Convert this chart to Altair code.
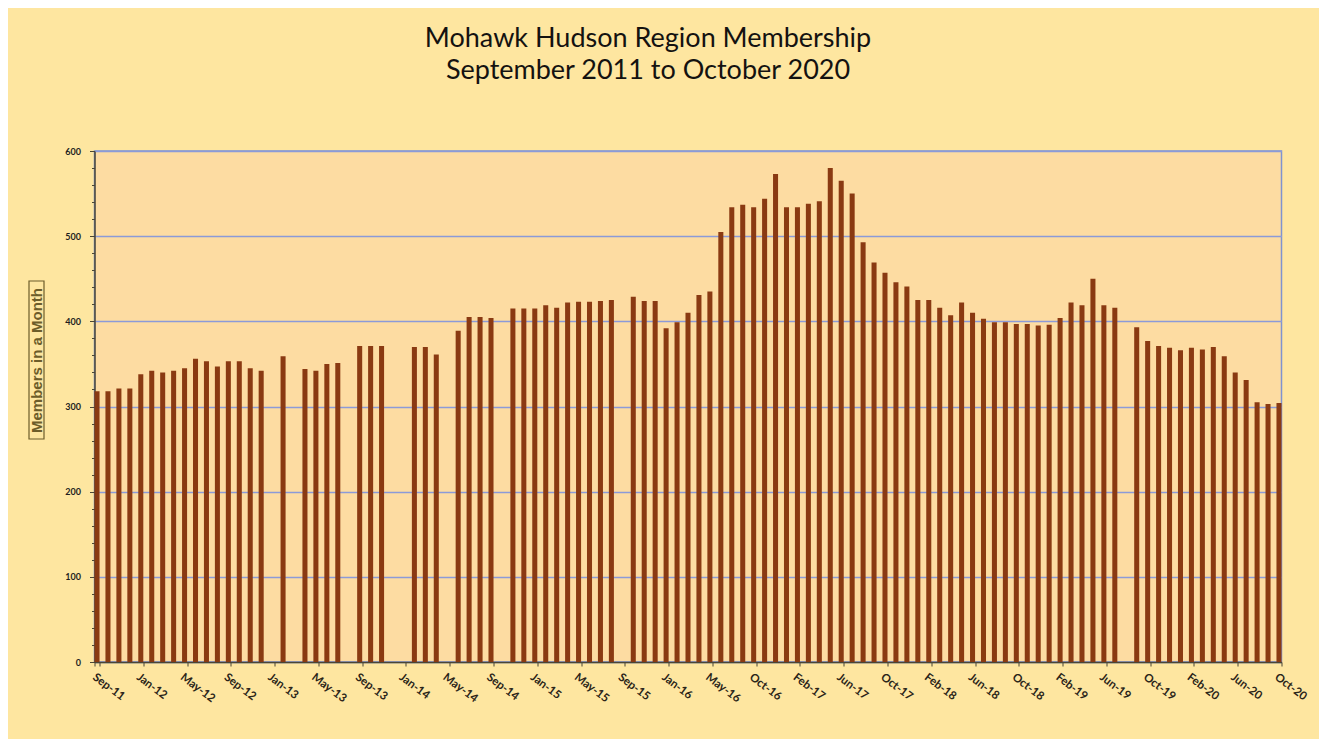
import altair as alt
import pandas as pd

# Category labels (one per bar slot; Sep-16 absent in the source axis)
months_2011 = ["Sep-11", "Oct-11", "Nov-11", "Dec-11"]
months_2012 = ["Jan-12", "Feb-12", "Mar-12", "Apr-12", "May-12", "Jun-12",
               "Jul-12", "Aug-12", "Sep-12", "Oct-12", "Nov-12", "Dec-12"]
months_2013 = ["Jan-13", "Feb-13", "Mar-13", "Apr-13", "May-13", "Jun-13",
               "Jul-13", "Aug-13", "Sep-13", "Oct-13", "Nov-13", "Dec-13"]
months_2014 = ["Jan-14", "Feb-14", "Mar-14", "Apr-14", "May-14", "Jun-14",
               "Jul-14", "Aug-14", "Sep-14", "Oct-14", "Nov-14", "Dec-14"]
months_2015 = ["Jan-15", "Feb-15", "Mar-15", "Apr-15", "May-15", "Jun-15",
               "Jul-15", "Aug-15", "Sep-15", "Oct-15", "Nov-15", "Dec-15"]
months_2016 = ["Jan-16", "Feb-16", "Mar-16", "Apr-16", "May-16", "Jun-16",
               "Jul-16", "Aug-16", "Oct-16", "Nov-16", "Dec-16"]
months_2017 = ["Jan-17", "Feb-17", "Mar-17", "Apr-17", "May-17", "Jun-17",
               "Jul-17", "Aug-17", "Sep-17", "Oct-17", "Nov-17", "Dec-17"]
months_2018 = ["Jan-18", "Feb-18", "Mar-18", "Apr-18", "May-18", "Jun-18",
               "Jul-18", "Aug-18", "Sep-18", "Oct-18", "Nov-18", "Dec-18"]
months_2019 = ["Jan-19", "Feb-19", "Mar-19", "Apr-19", "May-19", "Jun-19",
               "Jul-19", "Aug-19", "Sep-19", "Oct-19", "Nov-19", "Dec-19"]
months_2020 = ["Jan-20", "Feb-20", "Mar-20", "Apr-20", "May-20", "Jun-20",
               "Jul-20", "Aug-20", "Sep-20", "Oct-20"]

# Members per month (None = no bar reported)
members_2011 = [318, 318, 321, 321]
members_2012 = [338, 342, 340, 342, 345, 356, 353, 347, 353, 353, 345, 342]
members_2013 = [None, 359, None, 344, 342, 350, 351, None, 371, 371, 371, None]
members_2014 = [None, 370, 370, 361, None, 389, 405, 405, 404, None, 415, 415]
members_2015 = [415, 419, 416, 422, 423, 423, 424, 425, None, 429, 424, 424]
members_2016 = [392, 399, 410, 431, 435, 505, 534, 537, 534, 544, 573]
members_2017 = [534, 534, 538, 541, 580, 565, 550, 493, 469, 457, 446, 441]
members_2018 = [425, 425, 416, 407, 422, 410, 403, 399, 399, 397, 397, 395]
members_2019 = [396, 404, 422, 419, 450, 419, 416, None, 393, 377, 371, 369]
members_2020 = [366, 369, 367, 370, 359, 340, 331, 305, 303, 304]

tick_labels = ["Sep-11", "Jan-12", "May-12", "Sep-12", "Jan-13", "May-13", "Sep-13",
               "Jan-14", "May-14", "Sep-14", "Jan-15", "May-15", "Sep-15", "Jan-16",
               "May-16", "Oct-16", "Feb-17", "Jun-17", "Oct-17", "Feb-18", "Jun-18",
               "Oct-18", "Feb-19", "Jun-19", "Oct-19", "Feb-20", "Jun-20", "Oct-20"]
y_ticks = list(range(0, 601, 20))

months = (months_2011 + months_2012 + months_2013 + months_2014 + months_2015 +
          months_2016 + months_2017 + months_2018 + months_2019 + months_2020)
members = (members_2011 + members_2012 + members_2013 + members_2014 + members_2015 +
           members_2016 + members_2017 + members_2018 + members_2019 + members_2020)

df = pd.DataFrame({"month": months, "members": members})

ink = "#4a4636"

bars = alt.Chart(df).mark_bar(color="#8a3a12").encode(
    x=alt.X(
        "month:N",
        sort=months,
        scale=alt.Scale(domain=months, paddingInner=0.54, paddingOuter=0),
        axis=alt.Axis(
            values=tick_labels, title=None, labelAngle=37, labelAlign="left",
            labelBaseline="top", tickBand="extent", labelOverlap=False,
            labelBound=False, labelFont="Lato", labelFontSize=11.5,
            labelFontWeight="bold", labelColor="#2a2418", labelPadding=5,
            tickSize=4, tickColor=ink, domainColor=ink, domainWidth=1.5,
            grid=False,
        ),
    ),
    y=alt.Y(
        "members:Q",
        scale=alt.Scale(domain=[0, 600], nice=False),
        axis=alt.Axis(
            values=y_ticks,
            labelExpr="datum.value % 100 === 0 ? datum.label : ''",
            gridOpacity={"condition": {"test": "datum.value % 100 === 0", "value": 1}, "value": 0},
            tickSize={"condition": {"test": "datum.value % 100 === 0", "value": 5}, "value": 3},
            gridColor="#8c9ad8", gridWidth=1.5,
            tickColor=ink, domainColor=ink, domainWidth=1.5,
            labelFont="Lato", labelFontSize=9, labelFontWeight="bold",
            labelColor="#1e1e1e", labelPadding=9,
            title="Members in a Month", titleX=-58, titleY=209, titleAngle=270,
            titleAlign="center", titleBaseline="middle",
            titleFont="Liberation Sans", titleFontSize=15, titleFontWeight="bold",
            titleColor="#6d5d2a",
        ),
    ),
)

box = alt.Chart(pd.DataFrame({"k": [0]})).mark_rect(
    fillOpacity=0, stroke="#6d5d2a", strokeWidth=1.2
).encode(
    x=alt.value(-65.5), x2=alt.value(-50.5), y=alt.value(130), y2=alt.value(288)
)

chart = alt.layer(bars, box).properties(
    width=1187,
    height=511,
    autosize=alt.AutoSizeParams(type="none"),
    padding={"left": 86.5, "top": 143, "right": 37.5, "bottom": 77},
    background="#FEE6A0",
    title=alt.TitleParams(
        text=["Mohawk Hudson Region Membership", "September 2011 to October 2020"],
        font="Lato", fontSize=27, fontWeight="normal", color="#141210",
        anchor="middle", dx=-40, offset=62, lineHeight=32,
    ),
).configure_view(
    fill="#FDDCA2", stroke="#7f93d0", strokeWidth=1.5
)

chart.save("out.html", embed_options={"renderer": "svg", "actions": False})
